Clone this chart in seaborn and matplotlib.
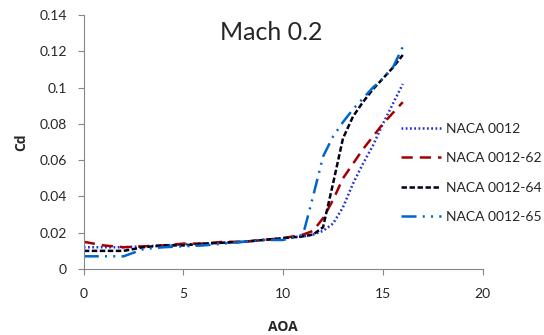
import matplotlib
matplotlib.use("Agg")
import matplotlib.pyplot as plt
import pandas as pd
import seaborn as sns

# angle of attack (deg)
aoa = [0, 1, 2, 3, 4, 5, 6, 7, 8, 9, 10, 11, 11.5, 12, 12.5, 13, 13.5, 14, 14.5, 15, 15.5, 16]

# drag coefficient
cd_0012 = [0.012, 0.012, 0.012, 0.0125, 0.013, 0.0135, 0.014, 0.0145, 0.015, 0.016, 0.017, 0.018,
           0.019, 0.021, 0.025, 0.034, 0.047, 0.058, 0.068, 0.080, 0.091, 0.102]
cd_0012_62 = [0.015, 0.013, 0.012, 0.0125, 0.013, 0.014, 0.014, 0.015, 0.015, 0.016, 0.017, 0.019,
              0.021, 0.028, 0.038, 0.050, 0.058, 0.066, 0.073, 0.080, 0.086, 0.092]
cd_0012_64 = [0.010, 0.010, 0.010, 0.012, 0.013, 0.013, 0.014, 0.0145, 0.015, 0.016, 0.017, 0.018,
              0.019, 0.023, 0.047, 0.072, 0.084, 0.092, 0.099, 0.105, 0.111, 0.118]
cd_0012_65 = [0.007, 0.007, 0.007, 0.011, 0.012, 0.0125, 0.013, 0.014, 0.015, 0.016, 0.016, 0.019,
              0.040, 0.062, 0.073, 0.081, 0.088, 0.094, 0.100, 0.105, 0.111, 0.1225]

names = ["NACA 0012", "NACA 0012-62", "NACA 0012-64", "NACA 0012-65"]
series = [cd_0012, cd_0012_62, cd_0012_64, cd_0012_65]

df = pd.concat([pd.DataFrame({"AOA": aoa, "Cd": s, "airfoil": n}) for n, s in zip(names, series)])

sns.set_style("ticks")
plt.rcParams["font.family"] = ["Lato", "DejaVu Sans"]

palette = {"NACA 0012": "#1f2fd0", "NACA 0012-62": "#a50000",
           "NACA 0012-64": "#000018", "NACA 0012-65": "#0066cc"}
dashes = {"NACA 0012": (0.7, 1.0), "NACA 0012-62": (4.5, 2.8),
          "NACA 0012-64": (2.2, 1.0), "NACA 0012-65": (6, 2.5, 0.8, 2.5, 0.8, 2.5)}

fig = plt.figure(figsize=(5.44, 3.35), dpi=100)
ax = fig.add_axes([0.154, 0.197, 0.733, 0.758])

sns.lineplot(data=df, x="AOA", y="Cd", hue="airfoil", style="airfoil", palette=palette,
             dashes=dashes, linewidth=1.8, ax=ax, sort=False)

ax.set_xlim(0, 20)
ax.set_ylim(0, 0.14)
ax.set_xticks([0, 5, 10, 15, 20])
ax.set_yticks([0, 0.02, 0.04, 0.06, 0.08, 0.1, 0.12, 0.14])
ax.set_yticklabels(["0", "0.02", "0.04", "0.06", "0.08", "0.1", "0.12", "0.14"])
ax.tick_params(labelsize=10, color="#868686", length=4, pad=10)
ax.tick_params(axis="y", pad=8)
sns.despine(ax=ax)
for sp in ["left", "bottom"]:
    ax.spines[sp].set_color("#868686")

ax.set_xlabel("AOA", fontsize=10, fontweight="bold", labelpad=14, family=["Open Sans", "DejaVu Sans"])
ax.set_ylabel("Cd", fontsize=10, fontweight="bold", labelpad=8, family=["Open Sans", "DejaVu Sans"])
ax.text(0.47, 0.93, "Mach 0.2", transform=ax.transAxes, ha="center", va="center", fontsize=18)

ax.legend(loc="center left", bbox_to_anchor=(0.737, 0.484), bbox_transform=fig.transFigure,
          frameon=False, fontsize=10, handlelength=2.9, handletextpad=0.36, labelspacing=1.25,
          borderpad=0, borderaxespad=0)

fig.savefig("out.png", dpi=100)
